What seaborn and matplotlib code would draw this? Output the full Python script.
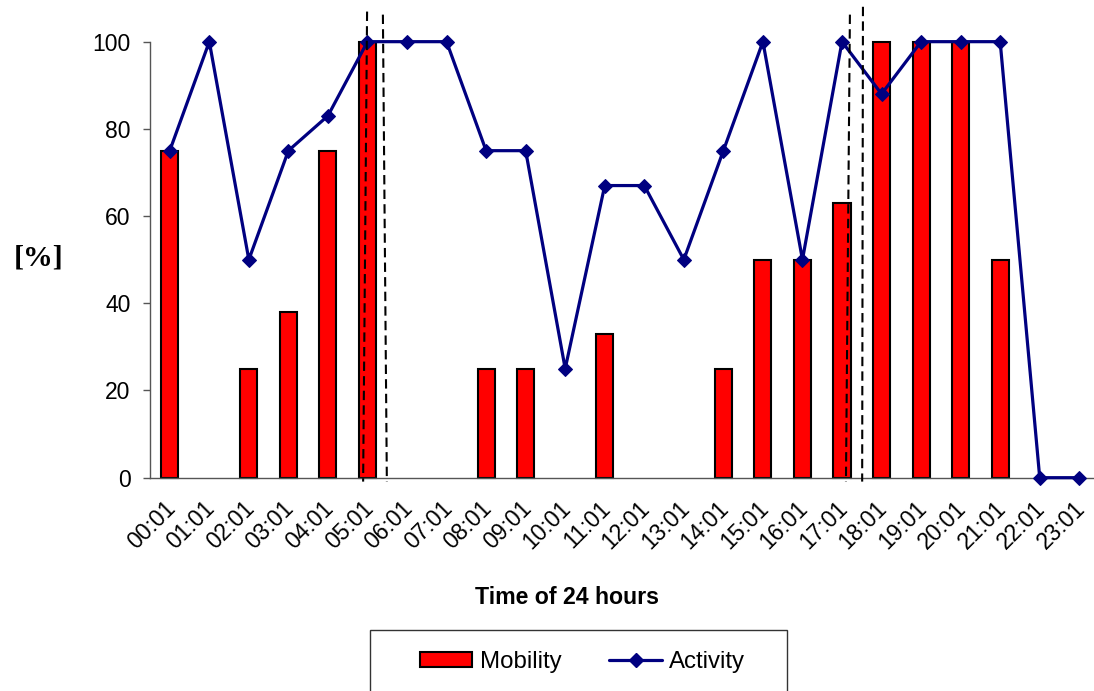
import numpy as np
import pandas as pd
import matplotlib
matplotlib.use("Agg")
import matplotlib.pyplot as plt
from matplotlib.patches import Patch, Rectangle
from matplotlib.lines import Line2D
from matplotlib.transforms import ScaledTranslation
import seaborn as sns

# Hourly samples over one day
times = ["00:01", "01:01", "02:01", "03:01", "04:01", "05:01", "06:01", "07:01",
         "08:01", "09:01", "10:01", "11:01", "12:01", "13:01", "14:01", "15:01",
         "16:01", "17:01", "18:01", "19:01", "20:01", "21:01", "22:01", "23:01"]
mobility = [75, 0, 25, 38, 75, 100, 0, 0, 25, 25, 0, 33,
            0, 0, 25, 50, 50, 63, 100, 100, 100, 50, 0, 0]
activity = [75, 100, 50, 75, 83, 100, 100, 100, 75, 75, 25, 67,
            67, 50, 75, 100, 50, 100, 88, 100, 100, 100, 0, 0]
y_ticks = [0, 20, 40, 60, 80, 100]

# Dashed guide lines marking the two transition windows (x at top, x at bottom, top y)
guide_x_top = [4.99, 5.39, 17.20, 17.53]
guide_x_bottom = [4.89, 5.49, 17.10, 17.51]
guide_y_top = [106.9, 106.2, 106.2, 108.0]
guide_y_bottom = -0.9

df = pd.DataFrame({"time": times, "mobility": mobility, "activity": activity,
                   "pos": np.arange(len(times))})

sns.set_style("white")
plt.rcParams["font.family"] = ["Liberation Sans", "DejaVu Sans"]
plt.rcParams["text.color"] = "black"
plt.rcParams["xtick.color"] = "black"
plt.rcParams["ytick.color"] = "black"

fig = plt.figure(figsize=(10.94, 6.91), dpi=100)
ax = fig.add_axes([0.1371, 0.3087, 0.8675, 0.6310])

sns.barplot(data=df, x="time", y="mobility", color="#FF0000", width=0.43,
            edgecolor="black", linewidth=1.5, saturation=1, ax=ax, zorder=2)
for bar in ax.patches:
    bar.set_clip_on(False)
    if bar.get_height() == 0:
        bar.set_visible(False)

sns.lineplot(data=df, x="pos", y="activity", color="#000080", linewidth=2.3,
             marker="D", markersize=7.5, markeredgecolor="#000080",
             clip_on=False, ax=ax, zorder=4)

for xt, xb, yt in zip(guide_x_top, guide_x_bottom, guide_y_top):
    ax.plot([xt, xb], [yt, guide_y_bottom], color="black", lw=1.5,
            linestyle=(0, (4.5, 2.5)), clip_on=False, zorder=5)

ax.set_xlim(-0.5, len(times) - 0.5)
ax.set_ylim(0, 100)
ax.set_yticks(y_ticks)
ax.set_xticks(np.arange(len(times)))
ax.set_xticklabels(times, rotation=45, ha="right", rotation_mode="anchor")
ax.set_xticks(np.arange(len(times) + 1) - 0.5, minor=True)
ax.tick_params(axis="x", which="major", length=0, labelsize=16.5, pad=8)
ax.tick_params(axis="x", which="minor", length=8, direction="inout",
               width=1, color="#555555")
ax.tick_params(axis="y", length=5, width=1, color="#555555", labelsize=16.5,
               pad=9, left=True)
shift = ScaledTranslation(-6 / 100, -8 / 100, fig.dpi_scale_trans)
for lab in ax.get_xticklabels():
    lab.set_transform(lab.get_transform() + shift)
ax.set_xlabel("")
ax.set_ylabel("")

for side in ["top", "right"]:
    ax.spines[side].set_visible(False)
for side in ["left", "bottom"]:
    ax.spines[side].set_color("#555555")
    ax.spines[side].set_linewidth(1)

fig.text(0.035, 0.627, "[%]", family=["Liberation Serif", "DejaVu Serif"],
         fontweight="bold", fontsize=21.5, ha="center", va="center")
fig.text(567 / 1094, 1 - 598 / 691, "Time of 24 hours", fontweight="bold",
         fontsize=16.7, ha="center", va="center")

# Legend frame running off the bottom edge
fig.patches.append(Rectangle((370 / 1094, -0.05), (787 - 370) / 1094,
                             1 - 630 / 691 + 0.05, transform=fig.transFigure,
                             fill=False, edgecolor="#333333", lw=1))
handles = [Patch(facecolor="#FF0000", edgecolor="black", linewidth=1.5),
           Line2D([], [], color="#000080", lw=2.3, marker="D", markersize=7.5)]
fig.legend(handles, ["Mobility", "Activity"], loc="center",
           bbox_to_anchor=(582.5 / 1094, 1 - 662 / 691), ncol=2, frameon=False,
           fontsize=17.3, handlelength=2.2, handleheight=0.55,
           handletextpad=0.3, columnspacing=2.0)

fig.savefig("out.png", dpi=100)
